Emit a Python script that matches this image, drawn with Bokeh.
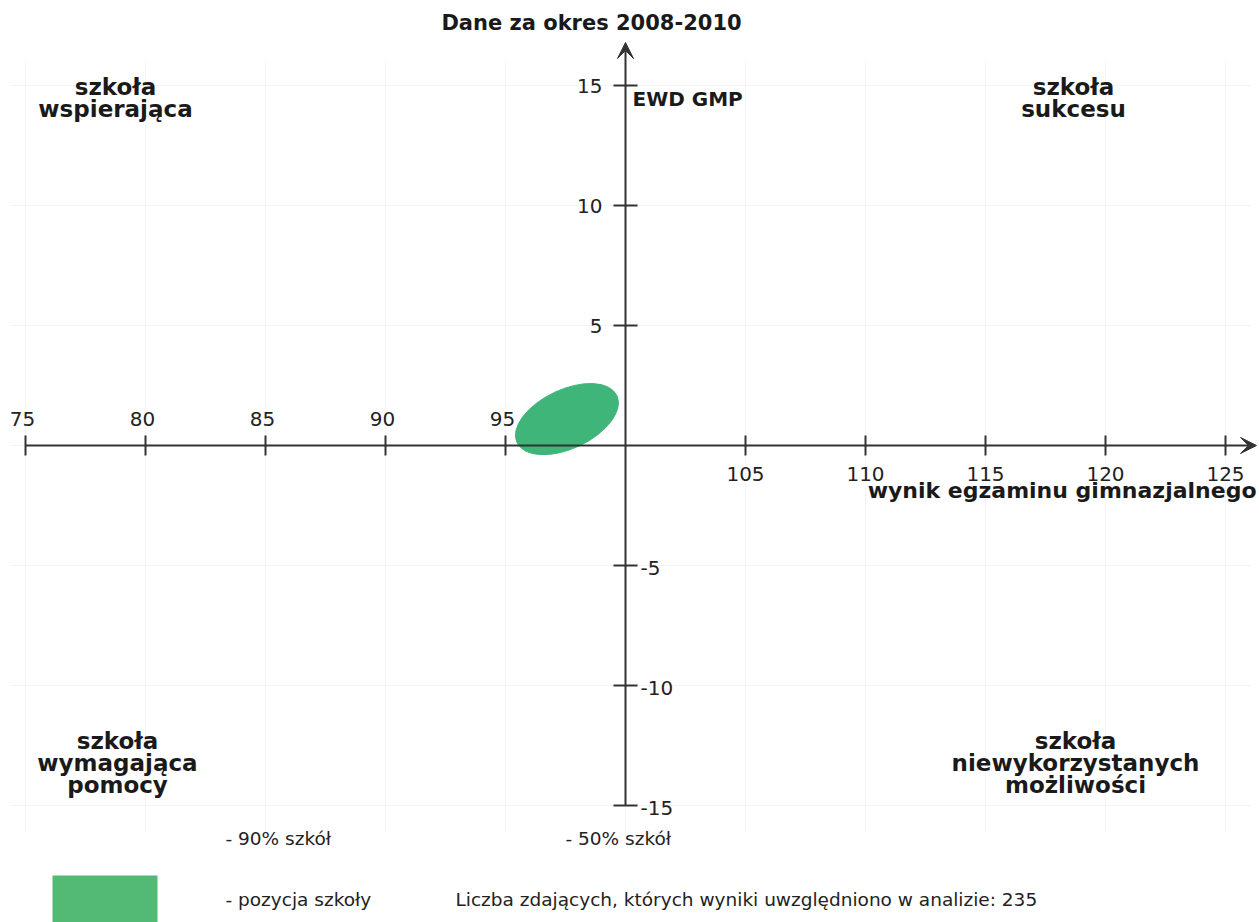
from bokeh.plotting import figure
from bokeh.models import Range1d, Arrow, VeeHead, ColumnDataSource
from bokeh.core.properties import value
from bokeh.embed import file_html
from bokeh.resources import INLINE

# ---- data ----
x_ticks = [75, 80, 85, 90, 95, 100, 105, 110, 115, 120, 125]
x_tick_labels = ["75", "80", "85", "90", "95", "", "105", "110", "115", "120", "125"]
y_ticks = [15, 10, 5, 0, -5, -10, -15]
y_tick_labels = ["15", "10", "5", "", "-5", "-10", "-15"]
school_egz = [97.56]      # wynik egzaminu gimnazjalnego
school_ewd = [1.10]       # EWD GMP
ellipse_w = [4.6]
ellipse_h = [2.46]
ellipse_angle = [0.44]
title = "Dane za okres 2008-2010"
x_label = "wynik egzaminu gimnazjalnego"
y_label = "EWD GMP"
quadrants = {
    "tl": ["szkoła", "wspierająca"],
    "tr": ["szkoła", "sukcesu"],
    "bl": ["szkoła", "wymagająca", "pomocy"],
    "br": ["szkoła", "niewykorzystanych", "możliwości"],
}
legend_90 = "- 90% szkół"
legend_50 = "- 50% szkół"
legend_school = "- pozycja szkoły"
n_text = "Liczba zdających, których wyniki uwzględniono w analizie: 235"

# ---- layout ----
W, H = 1259, 922
PPU = 24.0
XS = 75 - 25 / PPU
YT = 445 / PPU
XE = XS + W / PPU
YB = YT - H / PPU

def px(sx):
    return XS + sx / PPU

def py(sy):
    return YT - sy / PPU

p = figure(width=W, height=H, x_range=Range1d(XS, XE), y_range=Range1d(YB, YT),
           output_backend="svg", toolbar_location=None, min_border=0)
p.axis.visible = False
p.grid.visible = False
p.outline_line_color = None
p.background_fill_color = "white"

FONT = value("DejaVu Sans")
DARK = "#1a1a1a"

# faint grid
gx = [t for t in x_ticks]
p.segment(x0=gx, y0=[py(60)] * len(gx), x1=gx, y1=[py(830)] * len(gx),
          line_color="#f4f4f4", line_width=1)
gy = [t for t in y_ticks]
p.segment(x0=[px(10)] * len(gy), y0=gy, x1=[px(1250)] * len(gy), y1=gy,
          line_color="#f4f4f4", line_width=1)

# school ellipse
p.ellipse(x=school_egz, y=school_ewd, width=ellipse_w, height=ellipse_h,
          angle=ellipse_angle, fill_color="#3fb57a", line_color="#3fb57a", line_width=1)

# axes
p.add_layout(Arrow(end=VeeHead(size=16, fill_color="#333333", line_color="#333333"),
                   x_start=75, y_start=0, x_end=px(1256), y_end=0,
                   line_color="#333333", line_width=2))
p.add_layout(Arrow(end=VeeHead(size=16, fill_color="#333333", line_color="#333333"),
                   x_start=100, y_start=-15, x_end=100, y_end=py(42),
                   line_color="#333333", line_width=2))

xt = [t for t in x_ticks if t != 100]
p.segment(x0=xt, y0=[-10 / PPU] * len(xt), x1=xt, y1=[10 / PPU] * len(xt),
          line_color="#333333", line_width=2)
yt = [t for t in y_ticks if t != 0]
p.segment(x0=[100 - 12 / PPU] * len(yt), y0=yt, x1=[100 + 12 / PPU] * len(yt), y1=yt,
          line_color="#333333", line_width=2)

# x tick labels
left_x = [t for t in x_ticks if t < 100]
left_lab = [l for t, l in zip(x_ticks, x_tick_labels) if t < 100]
right_x = [t for t in x_ticks if t > 100]
right_lab = [l for t, l in zip(x_ticks, x_tick_labels) if t > 100]
p.text(x=[t - 3 / PPU for t in left_x], y=[27 / PPU] * len(left_x), text=left_lab,
       text_font=FONT, text_font_size="20px", text_color="#222222",
       text_align="center", text_baseline="middle")
p.text(x=right_x, y=[-28 / PPU] * len(right_x), text=right_lab,
       text_font=FONT, text_font_size="20px", text_color="#222222",
       text_align="center", text_baseline="middle")

# y tick labels
up_y = [t for t in y_ticks if t > 0]
up_lab = [l for t, l in zip(y_ticks, y_tick_labels) if t > 0]
dn_y = [t for t in y_ticks if t < 0]
dn_lab = [l for t, l in zip(y_ticks, y_tick_labels) if t < 0]
p.text(x=[100 - 23 / PPU] * len(up_y), y=up_y, text=up_lab,
       text_font=FONT, text_font_size="20px", text_color="#222222",
       text_align="right", text_baseline="middle")
p.text(x=[100 + 15 / PPU] * len(dn_y), y=[v - 2 / PPU for v in dn_y], text=dn_lab,
       text_font=FONT, text_font_size="20px", text_color="#222222",
       text_align="left", text_baseline="middle")

# title & axis labels
p.text(x=[px(591)], y=[py(22)], text=[title], text_font=FONT, text_font_size="21px",
       text_font_style="bold", text_color=DARK, text_align="center", text_baseline="middle")
p.text(x=[px(632)], y=[py(98)], text=[y_label], text_font=FONT, text_font_size="20px",
       text_font_style="bold", text_color=DARK, text_align="left", text_baseline="middle")
p.text(x=[px(1256)], y=[py(490)], text=[x_label], text_font=FONT, text_font_size="22px",
       text_font_style="bold", text_color=DARK, text_align="right", text_baseline="middle")

# quadrant labels
def block(lines, cx, top):
    p.text(x=[px(cx)] * len(lines), y=[py(top + 22 * i) for i in range(len(lines))],
           text=lines, text_font=FONT, text_font_size="23px", text_font_style="bold",
           text_color=DARK, text_align="center", text_baseline="middle")

block(quadrants["tl"], 115, 86)
block(quadrants["tr"], 1073, 86)
block(quadrants["bl"], 117, 740)
block(quadrants["br"], 1075, 740)

# legend
p.rect(x=[px(104.5)], y=[py(905)], width=105 / PPU, height=60 / PPU,
       fill_color="#52ba74", line_color=None)
leg = ColumnDataSource(dict(
    x=[px(225), px(565), px(225), px(455)],
    y=[py(838), py(838), py(899), py(899)],
    t=[legend_90, legend_50, legend_school, n_text]))
p.text(x="x", y="y", text="t", source=leg, text_font=FONT, text_font_size="18.5px",
       text_color="#222222", text_align="left", text_baseline="middle")

open("out.html", "w").write(file_html(p, INLINE))
